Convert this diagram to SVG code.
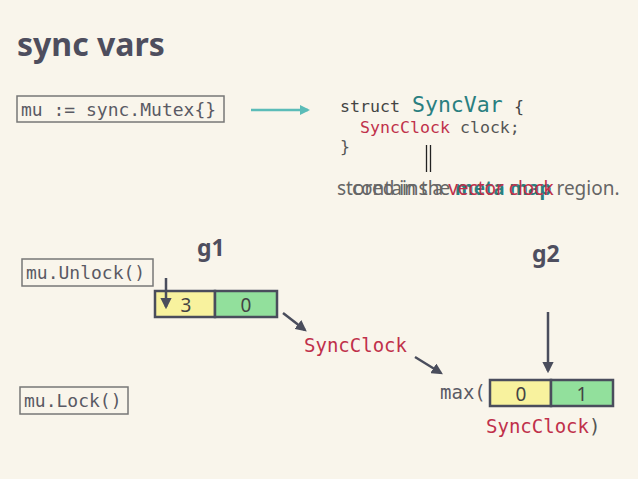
<svg xmlns="http://www.w3.org/2000/svg" width="638" height="479" viewBox="0 0 638 479">
<defs>
<style>
.mono{font-family:"DejaVu Sans Mono","Liberation Mono",monospace;}
.sans{font-family:"Noto Sans",Lato,sans-serif;}
.box{fill:none;stroke:#777;stroke-width:1.5;}
.gray{fill:#5a5a64;}
.red{fill:#c0304a;}
.teal{fill:#2a7f80;}
.cell{stroke:#4a4d5c;stroke-width:2.5;}
.digit{font-family:"Noto Sans",Lato,sans-serif;font-size:19px;fill:#444;text-anchor:middle;}
.arr{stroke:#4a4d5c;stroke-width:2.5;fill:none;marker-end:url(#ah);}
</style>
<marker id="ah" viewBox="0 0 10 10" refX="8" refY="5" markerWidth="4.5" markerHeight="4.5" orient="auto" markerUnits="strokeWidth"><path d="M0,0 L10,5 L0,10 z" fill="#4a4d5c"/></marker>
<marker id="ahT" viewBox="0 0 10 10" refX="8" refY="5" markerWidth="4" markerHeight="4" orient="auto" markerUnits="strokeWidth"><path d="M0,0 L10,5 L0,10 z" fill="#5bbcb8"/></marker>
</defs>
<rect width="638" height="479" fill="#f9f5eb"/>
<text x="17" y="56" class="sans" font-size="32" font-weight="bold" fill="#4e4e5e">sync vars</text>

<g id="mutex">
<rect x="17" y="96" width="207" height="26" class="box"/>
<text x="21" y="116" class="mono gray" font-size="18">mu := sync.Mutex{}</text>
</g>

<g id="struct">
<text x="340" y="112" class="mono" font-size="16.6" fill="#444">struct <tspan class="teal" font-size="21.5" x="412">SyncVar</tspan><tspan x="514">{</tspan></text>
<text x="360" y="133" class="mono" font-size="16.6" fill="#555"><tspan class="red">SyncClock</tspan> clock;</text>
<text x="340" y="152" class="mono" font-size="16.6" fill="#555">}</text>
</g>

<g id="notes">
<line x1="426.5" y1="145" x2="426.5" y2="172" stroke="#222" stroke-width="1.3"/>
<line x1="430.5" y1="145" x2="430.5" y2="172" stroke="#222" stroke-width="1.3"/>
<text x="337" y="195" class="sans" font-size="19" fill="#666">stored in the <tspan class="teal" font-weight="bold">meta map</tspan> region.</text>
<text x="352" y="195" class="sans" font-size="19" fill="#666">contains a <tspan class="red">vector clock</tspan></text>
</g>

<g id="g1">
<text x="197" y="256" class="sans" font-size="23" font-weight="bold" fill="#4e4e5e">g1</text>
<rect x="155" y="291" width="60" height="26" fill="#f8f29e" class="cell"/>
<rect x="215" y="291" width="62" height="26" fill="#92e09c" class="cell"/>
<text x="186" y="312" class="digit">3</text>
<text x="246" y="312" class="digit">0</text>
</g>

<g id="g2">
<text x="532" y="262" class="sans" font-size="23" font-weight="bold" fill="#4e4e5e">g2</text>
<text x="440" y="399" class="mono gray" font-size="19">max(</text>
<rect x="490" y="380" width="61" height="26" fill="#f8f29e" class="cell"/>
<rect x="551" y="380" width="62" height="26" fill="#92e09c" class="cell"/>
<text x="521" y="401" class="digit">0</text>
<text x="582" y="401" class="digit">1</text>
<text x="486" y="433" class="mono" font-size="19" fill="#555"><tspan class="red">SyncClock</tspan>)</text>
</g>

<g id="unlock">
<rect x="22" y="259" width="131" height="27" class="box"/>
<text x="26" y="279" class="mono gray" font-size="18">mu.Unlock()</text>
</g>

<g id="lock">
<rect x="20" y="387" width="108" height="27" class="box"/>
<text x="24" y="407" class="mono gray" font-size="18">mu.Lock()</text>
</g>

<g id="syncclock">
<text x="304" y="352" class="mono red" font-size="19">SyncClock</text>
</g>

<g id="connectors">
<line x1="251" y1="110" x2="308" y2="110" stroke="#5bbcb8" stroke-width="2.5" marker-end="url(#ahT)"/>
<line x1="166" y1="278" x2="166" y2="307" class="arr"/>
<line x1="283" y1="313" x2="305" y2="330" class="arr"/>
<line x1="415" y1="357" x2="441" y2="373" class="arr"/>
<line x1="548" y1="312" x2="548" y2="371" class="arr"/>
</g>
</svg>
